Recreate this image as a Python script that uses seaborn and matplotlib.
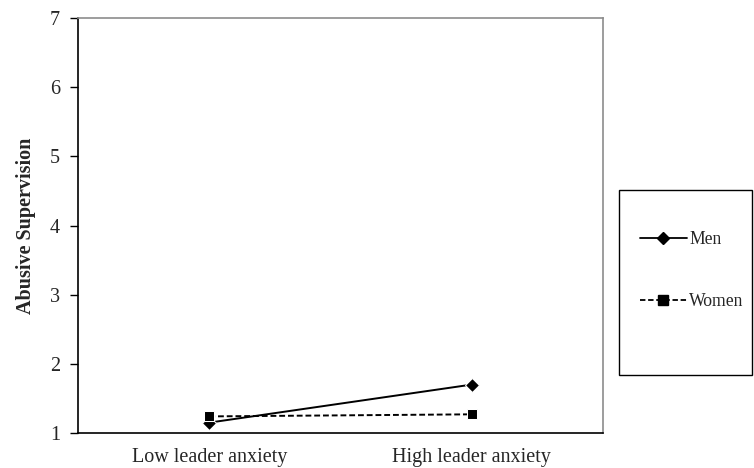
import matplotlib
matplotlib.use("Agg")
import matplotlib.pyplot as plt
import seaborn as sns
import pandas as pd
from matplotlib.patches import Rectangle
from matplotlib.lines import Line2D

categories = ["Low leader anxiety", "High leader anxiety"]
men = [1.15, 1.70]
women = [1.24, 1.27]
groups = ["Men", "Women"]
y_ticks = [1, 2, 3, 4, 5, 6, 7]

df = pd.DataFrame({
    "x": list(range(len(categories))) * 2,
    "y": men + women,
    "group": [groups[0]] * len(men) + [groups[1]] * len(women),
})

sns.set_style("white")
plt.rcParams["font.family"] = ["Liberation Serif", "DejaVu Serif"]

fig = plt.figure(figsize=(7.54, 4.68), dpi=100)
ax = fig.add_axes([78 / 754, 1 - 433 / 468, (603 - 78) / 754, (433 - 18) / 468])

sns.lineplot(data=df, x="x", y="y", hue="group", style="group",
             palette={"Men": "black", "Women": "black"},
             dashes={"Men": (None, None), "Women": (3, 1.5)},
             markers={"Men": "D", "Women": "s"},
             markersize=7.5, linewidth=1.4, ax=ax, legend=False)

ax.set_xlim(-0.5, 1.5)
ax.set_ylim(1, 7)
ax.set_yticks(y_ticks)
ax.set_yticklabels([str(t) for t in y_ticks], fontsize=14.5)
ax.set_xticks(range(len(categories)))
ax.set_xticklabels(categories, fontsize=14.5)
ax.set_xticks([0.5], minor=True)
ax.tick_params(axis="x", which="major", length=0, pad=10.5)
ax.tick_params(axis="x", which="minor", length=5, width=1, direction="in", color="black")
ax.tick_params(axis="y", which="major", length=6, width=1, direction="out", left=True,
               color="black", pad=7)
ax.set_xlabel("")
ax.set_ylabel("Abusive Supervision", fontsize=14.5, fontweight="bold", labelpad=10)

for s in ["left", "bottom"]:
    ax.spines[s].set_color("black")
    ax.spines[s].set_linewidth(1.2)
for s in ["top", "right"]:
    ax.spines[s].set_color("#8c8c8c")
    ax.spines[s].set_linewidth(1.2)

# legend frame
fig.patches.append(Rectangle((619 / 754, 1 - 375 / 468), (752 - 619) / 754, (375 - 190) / 468,
                             transform=fig.transFigure, fill=False, edgecolor="black", linewidth=1.0))

handles = [Line2D([], [], color="black", lw=1.3, marker="D", markersize=6),
           Line2D([], [], color="black", lw=1.3, ls=(0, (3, 1.5)), marker="s", markersize=6.5)]
fig.legend(handles, groups, loc="upper left", bbox_to_anchor=(640 / 754, 1 - 231 / 468),
           frameon=False, fontsize=12.7, handlelength=2.65, handletextpad=0.15,
           labelspacing=2.55, borderpad=0, borderaxespad=0)

fig.savefig("out.png", dpi=100)
